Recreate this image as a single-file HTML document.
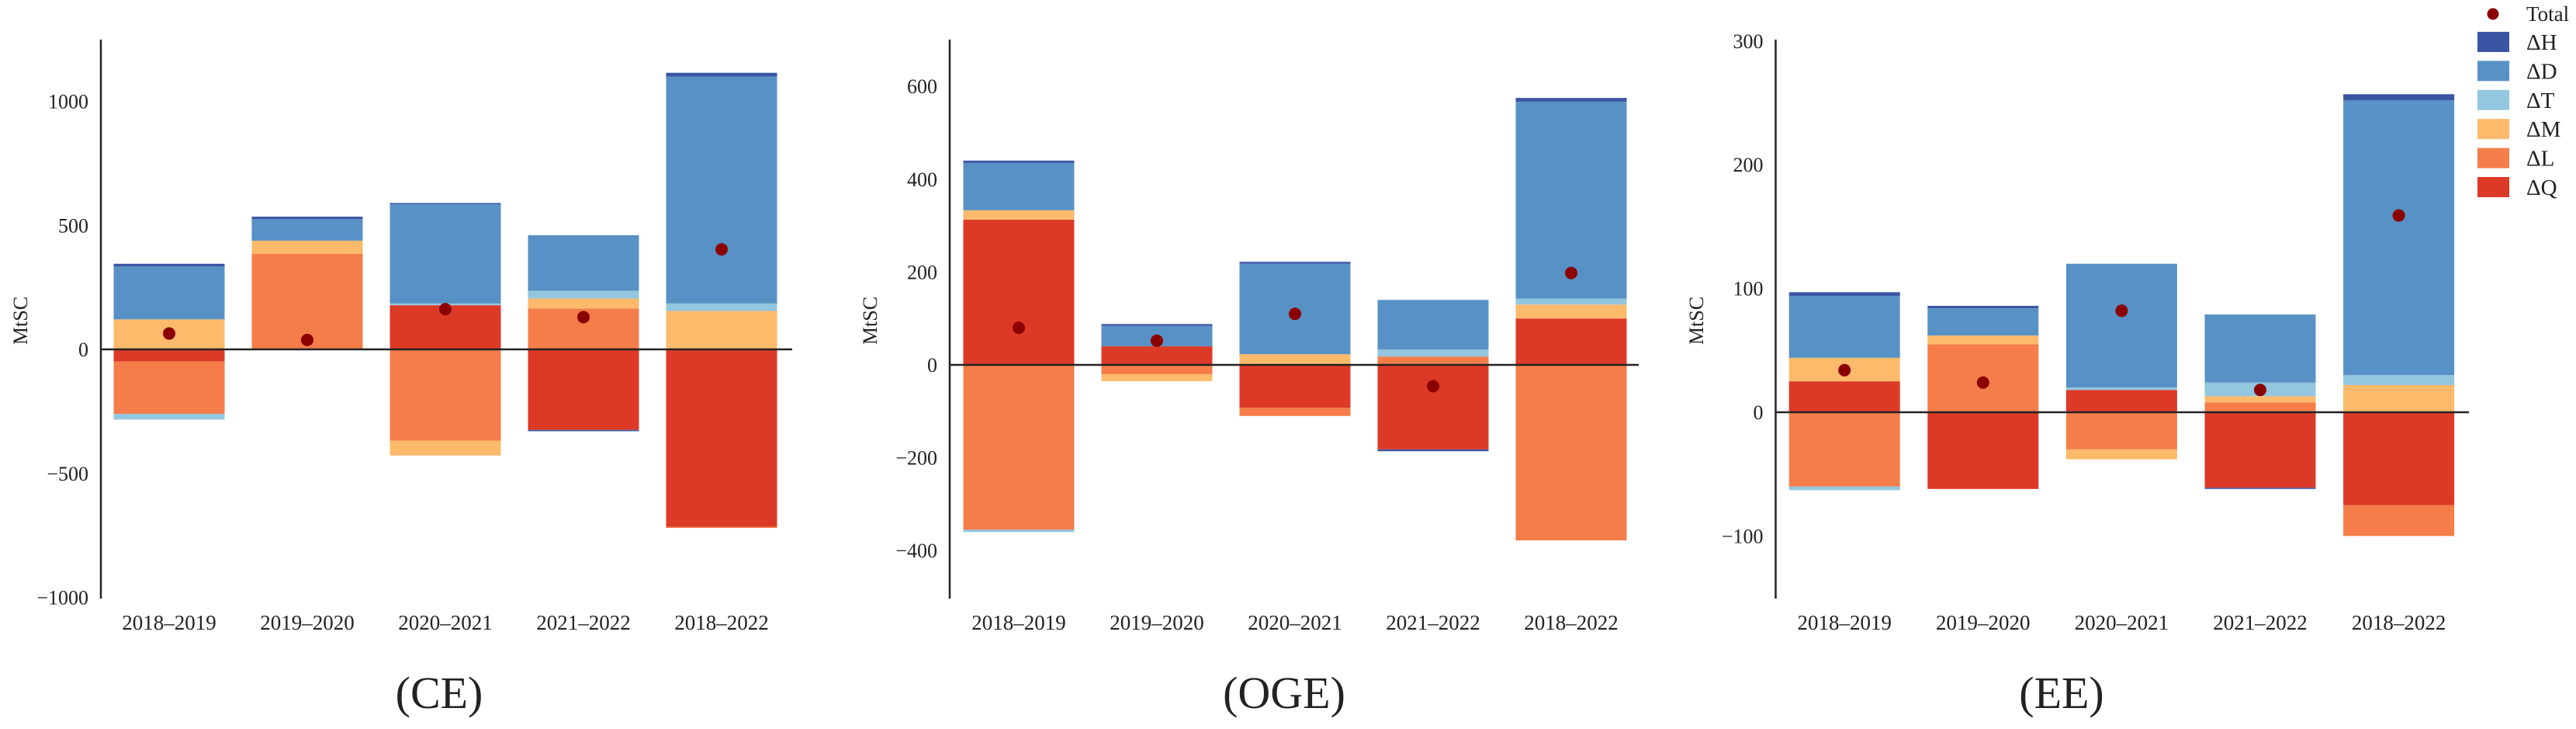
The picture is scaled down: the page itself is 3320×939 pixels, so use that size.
<!DOCTYPE html>
<html><head><meta charset="utf-8"><style>
html,body{margin:0;padding:0;background:#fff}
svg{display:block}
text{font-family:"Liberation Serif",serif;fill:#222}
</style></head><body>
<svg id="chart" width="3320" height="939" viewBox="0 0 3320 939" xmlns="http://www.w3.org/2000/svg"></svg>
<script>
const categories = ["2018–2019","2019–2020","2020–2021","2021–2022","2018–2022"];
const components = ["Q","L","M","T","D","H"];
const colors = {Q:"#dc3a27",L:"#f47d4a",M:"#fdba6b",T:"#93c6df",D:"#5891c5",H:"#3a55a4"};

const ceQ = [-49, 0, 178, -325, -715];
const ceL = [-211, 385, -368, 165, -5];
const ceM = [121, 53, -60, 40, 155];
const ceT = [-23, 0, 7, 31, 30];
const ceD = [213, 87, 400, 224, 915];
const ceH = [11, 10, 5, -5, 15];
const ceTotal = [64, 38, 162, 130, 403];
const ceTicks = [-1000, -500, 0, 500, 1000];

const ogeQ = [313, 40, -92, -182, 100];
const ogeL = [-355, -20, -18, 18, -378];
const ogeM = [20, -15, 23, 0, 30];
const ogeT = [-5, 0, 0, 15, 13];
const ogeD = [102, 44, 195, 107, 424];
const ogeH = [5, 4, 4, -4, 8];
const ogeTotal = [80, 52, 110, -46, 198];
const ogeTicks = [-400, -200, 0, 200, 400, 600];

const eeQ = [25, -62, 18, -61, -75];
const eeL = [-60, 55, -30, 8, -25];
const eeM = [19, 7, -8, 5, 22];
const eeT = [-3, 0, 2, 11, 8];
const eeD = [50, 22, 100, 55, 222];
const eeH = [3, 2, 0, -1, 5];
const eeTotal = [34, 24, 82, 18, 159];
const eeTicks = [-100, 0, 100, 200, 300];

const NS = "http://www.w3.org/2000/svg";
const svg = document.getElementById("chart");
function mk(tag, attrs, parent){
  const e = document.createElementNS(NS, tag);
  for (const k in attrs) e.setAttribute(k, attrs[k]);
  (parent||svg).appendChild(e);
  return e;
}

const panels = [
  {id:"ce", title:"(CE)", titleX:566, axisX:130, zeroY:450, pxPerUnit:0.3195, lineEnd:1021, firstBar:146.5, pitch:178, ylabelX:26,
   series:{Q:ceQ,L:ceL,M:ceM,T:ceT,D:ceD,H:ceH}, total:ceTotal, ticks:ceTicks},
  {id:"oge", title:"(OGE)", titleX:1655, axisX:1224, zeroY:470, pxPerUnit:0.598, lineEnd:2112, firstBar:1241.5, pitch:178, ylabelX:1121,
   series:{Q:ogeQ,L:ogeL,M:ogeM,T:ogeT,D:ogeD,H:ogeH}, total:ogeTotal, ticks:ogeTicks},
  {id:"ee", title:"(EE)", titleX:2657, axisX:2288.5, zeroY:531, pxPerUnit:1.594, lineEnd:3182, firstBar:2305.7, pitch:178.6, ylabelX:2186,
   series:{Q:eeQ,L:eeL,M:eeM,T:eeT,D:eeD,H:eeH}, total:eeTotal, ticks:eeTicks}
];
const barW = 143;

panels.forEach(p => {
  const g = mk("g", {});
  
  
  const y = v => p.zeroY - v * p.pxPerUnit;
  // bars
  categories.forEach((c, i) => {
    const x0 = p.firstBar + i * p.pitch;
    let pos = 0, neg = 0;
    components.forEach(k => {
      const v = p.series[k][i];
      if (!v) return;
      let a, b;
      if (v > 0) { a = pos; b = pos + v; pos = b; } else { a = neg; b = neg + v; neg = b; }
      const r = mk("rect", {x:x0, y:Math.min(y(a), y(b)), width:barW, height:Math.abs(y(a)-y(b)), fill:colors[k]}, g);
      
      
    });
    const lbl = mk("text", {x:x0 + barW/2, y:811, "font-size":27, "text-anchor":"middle"}, g);
    lbl.textContent = c;
    
    
  });
  // axes
  const ax = mk("line", {x1:p.axisX, x2:p.axisX, y1:51, y2:771, stroke:"#222", "stroke-width":2.5}, g);
  
  
  const zl = mk("line", {x1:p.axisX, x2:p.lineEnd, y1:p.zeroY, y2:p.zeroY, stroke:"#222", "stroke-width":2.5}, g);
  
  
  p.ticks.forEach(t => {
    const tl = mk("text", {x:p.axisX - 16, y:y(t) + 9, "font-size":26, "text-anchor":"end"}, g);
    tl.textContent = t < 0 ? "−" + Math.abs(t) : String(t);
    
    
  });
  // totals
  p.total.forEach((v, i) => {
    const cx = p.firstBar + i * p.pitch + barW/2;
    const d = mk("circle", {cx:cx, cy:y(v), r:8, fill:"#8b0000"}, g);
    
    
  });
  const yl = mk("text", {x:0, y:0, "font-size":26, "text-anchor":"middle", transform:"translate(" + (p.ylabelX + 9) + ",413) rotate(-90)"}, g);
  yl.textContent = "MtSC";
  
  
  const tt = mk("text", {x:p.titleX, y:912, "font-size":58, "text-anchor":"middle"}, g);
  tt.textContent = p.title;
  
  
});

// legend
const lg = mk("g", {});


const ld = mk("circle", {cx:3213, cy:18, r:7.5, fill:"#8b0000"}, lg);


const lt = mk("text", {x:3256, y:27, "font-size":27}, lg);
lt.textContent = "Total";


const legendOrder = ["H","D","T","M","L","Q"];
legendOrder.forEach((k, i) => {
  const cy = 54 + i * 37.4;
  const s = mk("rect", {x:3193, y:cy - 13, width:41, height:26, fill:colors[k]}, lg);
  
  
  const t = mk("text", {x:3256, y:cy + 10, "font-size":29}, lg);
  t.textContent = "Δ" + k;
  
  
});
</script>
</body></html>
